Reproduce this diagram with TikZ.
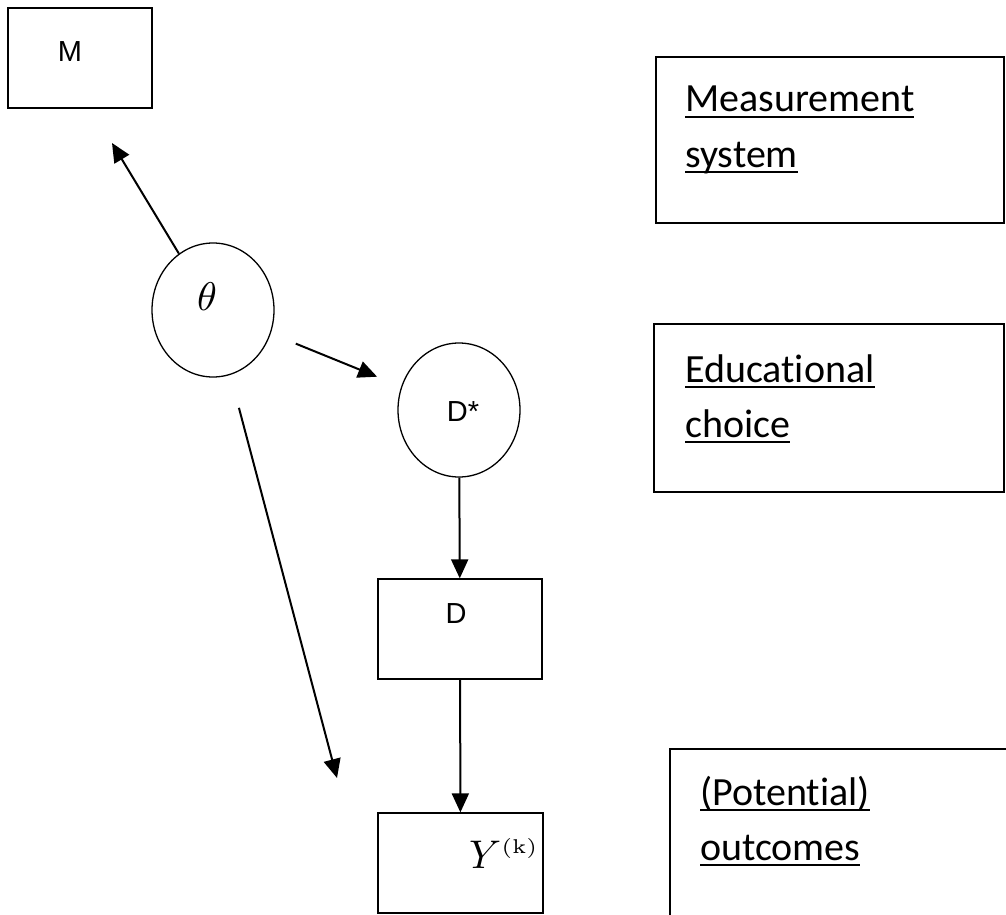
\documentclass[tikz,border=0pt]{standalone}
\usepackage[no-math]{fontspec}
\usepackage{graphicx}
\setmainfont{Liberation Sans}
\newfontfamily\calib[Ligatures=NoCommon]{Carlito}
\usetikzlibrary{shapes.geometric,arrows.meta}
\newcommand\myul[1]{\setbox0\hbox{#1}\rlap{\rule[-6pt]{\wd0}{2pt}}\box0}
\tikzset{
  box/.style={draw, line width=1.3pt, rectangle, inner sep=0pt},
  oval/.style={draw, line width=1.3pt, ellipse, inner sep=0pt, minimum width=122pt, minimum height=134pt},
  arr/.style={line width=2pt, -{Triangle[length=19pt,width=17pt]}},
  sans/.style={font=\fontsize{29}{32}\selectfont, inner sep=0pt},
  lab/.style={font=\calib\fontsize{40}{48}\selectfont, anchor=base west, inner sep=0pt},
}
\begin{document}
\begin{tikzpicture}[x=1pt,y=-1pt]
\useasboundingbox (0,0) rectangle (1006,915);
\clip (0,0) rectangle (1006,915);
% left diagram
\node[box, minimum width=144pt, minimum height=100pt] (mbox) at (80,58) {};
\node[sans] (mtext) at (70,52) {M};
\node[oval] (theta) at (213,310) {};
\node[inner sep=0pt] (thtext) at (207,297) {\scalebox{4}{$\theta$}};
\node[oval] (dstar) at (459,410) {};
\node[sans] (dstext) at (463,412) {D*};
\node[box, minimum width=164pt, minimum height=100pt] (dbox) at (460,629) {};
\node[sans] (dtext) at (456,614) {D};
\node[box, minimum width=165pt, minimum height=100pt] (ybox) at (460.5,863) {};
\node[anchor=base west, inner sep=0pt] (ytext) at (469,868) {\scalebox{4}{$Y^{\scriptscriptstyle(\mathrm{k})}$}};
% right labels
\node[box, minimum width=348pt, minimum height=166pt] (msbox) at (830,140) {};
\node[lab] (ms1) at (685,112) {\myul{Measurement}};
\node[lab] (ms2) at (685,167) {\myul{system}};
\node[box, minimum width=350pt, minimum height=168pt] (edbox) at (829,408) {};
\node[lab] (ed1) at (685,382) {\myul{Educational}};
\node[lab] (ed2) at (685,437) {\myul{choice}};
\node[box, minimum width=350pt, minimum height=200pt] (ocbox) at (845,849) {};
\node[lab] (oc1) at (700,805) {\myul{(Potential)}};
\node[lab] (oc2) at (700,860) {\myul{outcomes}};
% connectors
\coordinate (mtip) at (112,143);
\coordinate (ytip) at (337,778);
\draw[arr] (theta) -- (mtip);
\draw[arr, shorten <=27pt, shorten >=26pt] (theta) -- (dstar);
\draw[arr, shorten <=34pt] (theta) -- (ytip);
\draw[arr] (dstar) -- (dbox);
\draw[arr] (dbox) -- (ybox);
\end{tikzpicture}
\end{document}
